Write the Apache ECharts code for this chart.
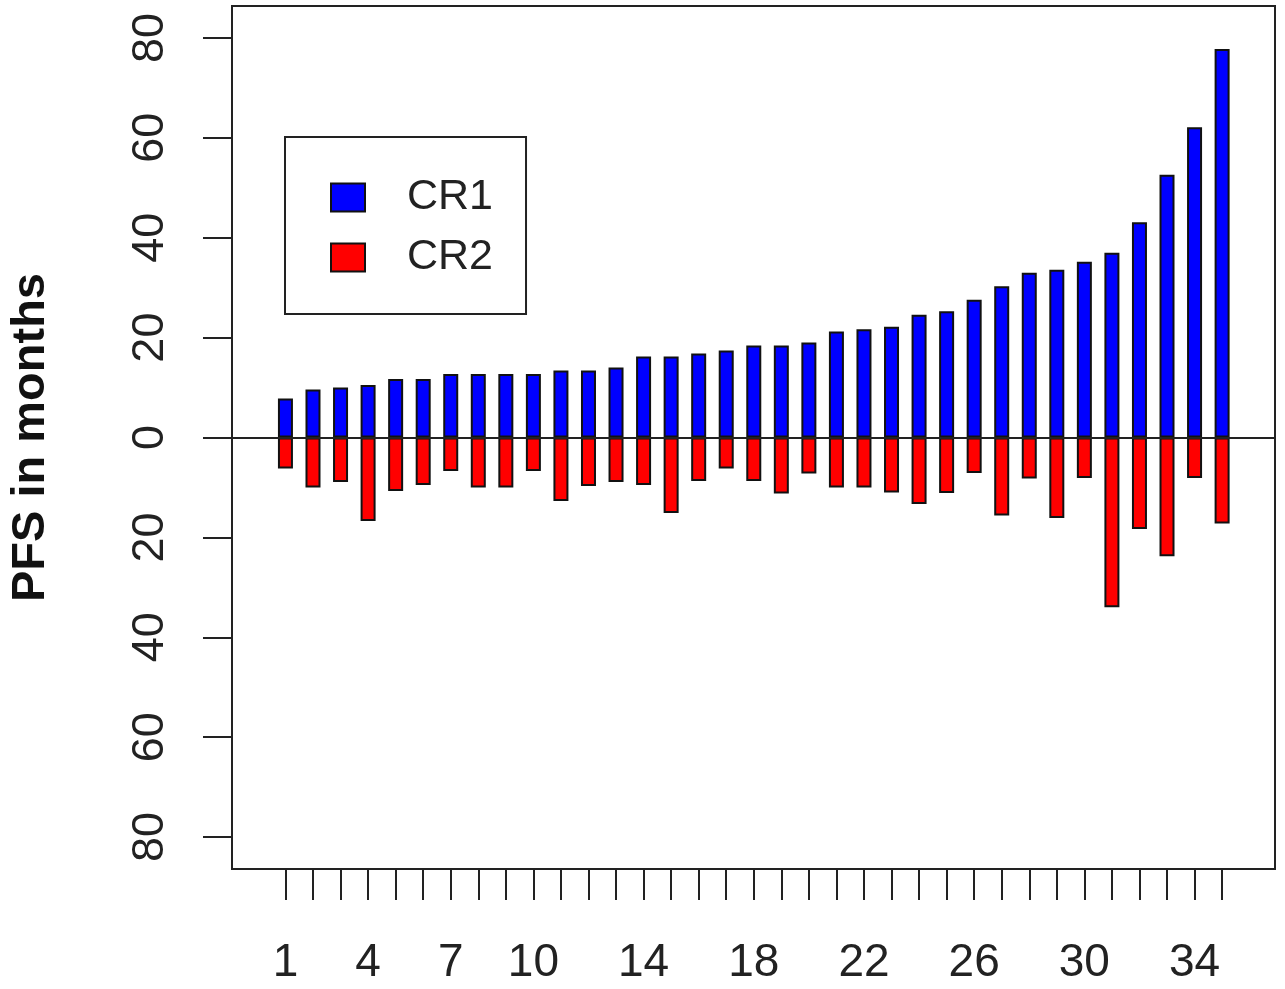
<!DOCTYPE html>
<html>
<head>
<meta charset="utf-8">
<script src="https://cdn.jsdelivr.net/npm/echarts@6/dist/echarts.min.js"></script>
<style>
html,body{margin:0;padding:0;background:#fff;}
#chart{width:1285px;height:989px;}
</style>
</head>
<body>
<div id="chart"></div>
<script>
// Patient index (x positions)
var patients = [1,2,3,4,5,6,7,8,9,10,11,12,13,14,15,16,17,18,19,20,21,22,23,24,25,26,27,28,29,30,31,32,33,34,35];
// PFS after first complete remission (months), drawn upward
var cr1 = [7.8,9.6,10.0,10.5,11.7,11.7,12.7,12.7,12.7,12.7,13.4,13.4,14.0,16.2,16.2,16.8,17.4,18.4,18.4,19.0,21.2,21.7,22.2,24.6,25.3,27.6,30.3,33.0,33.6,35.2,37.0,43.1,52.6,62.1,77.8];
// PFS after second complete remission (months), drawn downward
var cr2 = [6.2,10.0,8.9,16.7,10.7,9.5,6.7,10.0,10.0,6.7,12.7,9.7,8.9,9.5,15.1,8.7,6.2,8.7,11.2,7.2,10.0,10.0,11.0,13.3,11.1,7.1,15.6,8.2,16.1,8.1,34.0,18.3,23.8,8.1,17.2];
// Axis tick labels
var xTickPositions = [1,2,3,4,5,6,7,8,9,10,11,12,13,14,15,16,17,18,19,20,21,22,23,24,25,26,27,28,29,30,31,32,33,34,35];
var xLabels = [1,4,7,10,14,18,22,26,30,34];
var yTicks = [-80,-60,-40,-20,0,20,40,60,80];

var chart = echarts.init(document.getElementById('chart'), null, {renderer:'canvas'});
var narrow = "'Liberation Sans Narrow', 'Arial Narrow', 'Liberation Sans', Arial, sans-serif";
var sans = "'Liberation Sans', Arial, sans-serif";

var option = {
  animation: false,
  backgroundColor: '#ffffff',
  grid: {
    left: 232, right: 10, top: 6, bottom: 120,
    outerBoundsMode: 'none',
    containLabel: false,
    show: true, borderColor: '#222', borderWidth: 2, backgroundColor: 'transparent'
  },
  legend: {
    orient: 'vertical',
    left: 285, top: 137,
    padding: [39, 33, 35, 45],
    borderColor: '#222', borderWidth: 2, borderRadius: 0,
    backgroundColor: '#fff',
    itemWidth: 34, itemHeight: 28, itemGap: 17,
    icon: 'rect',
    textStyle: {fontFamily: sans, fontSize: 43, color: '#222', padding: [0,0,0,37]},
    data: ['CR1', 'CR2']
  },
  xAxis: {
    type: 'value',
    min: -0.94, max: 36.92,
    axisLine: {show: true, onZero: false, lineStyle: {color: '#222', width: 2}},
    splitLine: {show: false},
    axisTick: {show: true, length: 31, customValues: xTickPositions, lineStyle: {color: '#222', width: 2}},
    axisLabel: {customValues: xLabels, margin: 71, fontFamily: narrow, fontSize: 46, color: '#222'}
  },
  yAxis: {
    type: 'value',
    min: -86.4, max: 86.4,
    name: 'PFS in months',
    nameLocation: 'middle',
    nameRotate: 90,
    nameGap: 177,
    nameTextStyle: {fontFamily: sans, fontSize: 47, fontWeight: 'bold', color: '#111'},
    axisLine: {show: true, onZero: false, lineStyle: {color: '#222', width: 2}},
    splitLine: {show: false},
    axisTick: {show: true, length: 29, customValues: yTicks, lineStyle: {color: '#222', width: 2}},
    axisLabel: {
      customValues: yTicks, rotate: 90, margin: 59,
      fontFamily: narrow, fontSize: 45, color: '#222',
      formatter: function (v) { return String(Math.abs(v)); }
    }
  },
  series: [
    {
      name: 'CR1', type: 'bar', barWidth: 15, barGap: '-100%',
      itemStyle: {color: '#0000ff', borderColor: '#111', borderWidth: 2},
      data: patients.map(function (p, i) { return [p, cr1[i]]; }),
      markLine: {
        silent: true, symbol: 'none', label: {show: false},
        lineStyle: {color: '#222', width: 2, type: 'solid'},
        data: [{yAxis: 0}]
      },
      z: 2
    },
    {
      name: 'CR2', type: 'bar', barWidth: 15, barGap: '-100%',
      itemStyle: {color: '#ff0000', borderColor: '#111', borderWidth: 2},
      data: patients.map(function (p, i) { return [p, -cr2[i]]; }),
      z: 2
    }
  ]
};
chart.setOption(option);
</script>
</body>
</html>
